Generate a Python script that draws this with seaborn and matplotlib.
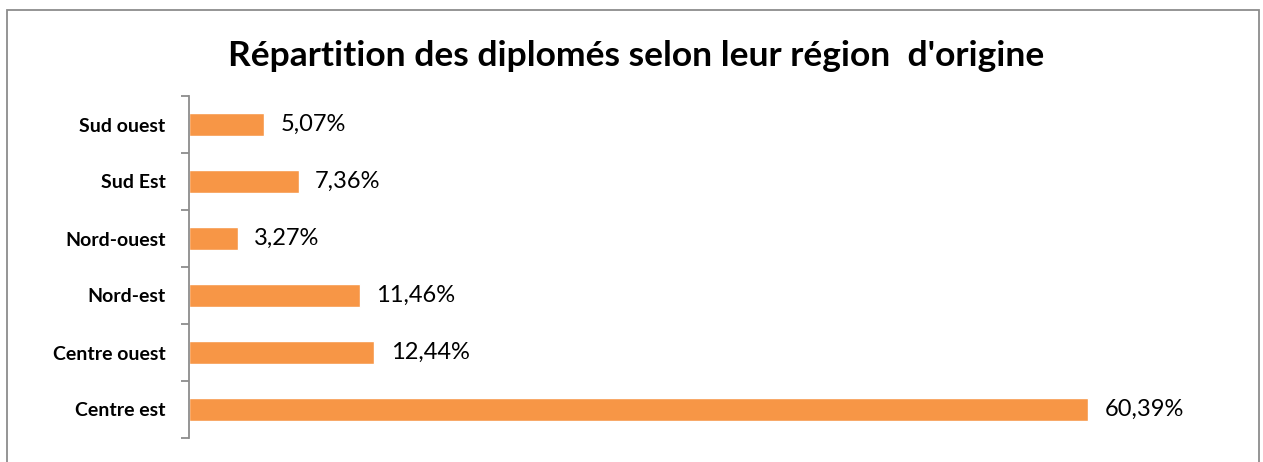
import matplotlib
matplotlib.use("Agg")
import matplotlib.pyplot as plt
import seaborn as sns
import pandas as pd
import numpy as np
from matplotlib.patches import Rectangle

categories = ["Sud ouest", "Sud Est", "Nord-ouest", "Nord-est", "Centre ouest", "Centre est"]
values = [5.07, 7.36, 3.27, 11.46, 12.44, 60.39]
value_labels = ["5,07%", "7,36%", "3,27%", "11,46%", "12,44%", "60,39%"]
title = "Répartition des diplomés selon leur région  d'origine"

sns.set_style("white")
plt.rcParams['font.family'] = ['Lato', 'DejaVu Sans']

df = pd.DataFrame({"region": categories, "pct": values})

fig = plt.figure(figsize=(12.63, 4.62), dpi=100)
ax = fig.add_axes([189/1263, 1 - 438/462, (1231-189)/1263, (438-96)/462])

sns.barplot(data=df, y="region", x="pct", order=categories, orient="h",
            color="#F79646", saturation=1, width=0.39, ax=ax)

ax.set_xlim(0, 70)
ax.set_ylim(len(categories) - 0.5, -0.5)
ax.set_xlabel("")
ax.set_ylabel("")
ax.set_xticks([])
for s in ["top", "right", "bottom"]:
    ax.spines[s].set_visible(False)
ax.spines["left"].set_color("#8c8c8c")
ax.spines["left"].set_linewidth(1.3)

ax.tick_params(axis="y", which="major", left=False, length=0, pad=17)
ax.set_yticks(np.arange(-0.5, len(categories), 1.0), minor=True)
ax.tick_params(axis="y", which="minor", left=True, length=6, width=1.3, color="#8c8c8c")
for lbl in ax.get_yticklabels():
    lbl.set_fontweight("bold")
    lbl.set_fontsize(14)
    lbl.set_color("black")

for container in ax.containers:
    ax.bar_label(container, labels=value_labels, padding=12, fontsize=17, color="black")

fig.text(0.504, 1 - 56/462, title, ha="center", va="center", fontsize=25.5,
         fontweight="bold", color="black")

fig.patches.append(Rectangle((7/1263, -0.05), (1259-7)/1263, 1.05 - 10/462,
                             transform=fig.transFigure, fill=False,
                             edgecolor="#8c8c8c", linewidth=1.3))

fig.savefig("out.png", dpi=100)
